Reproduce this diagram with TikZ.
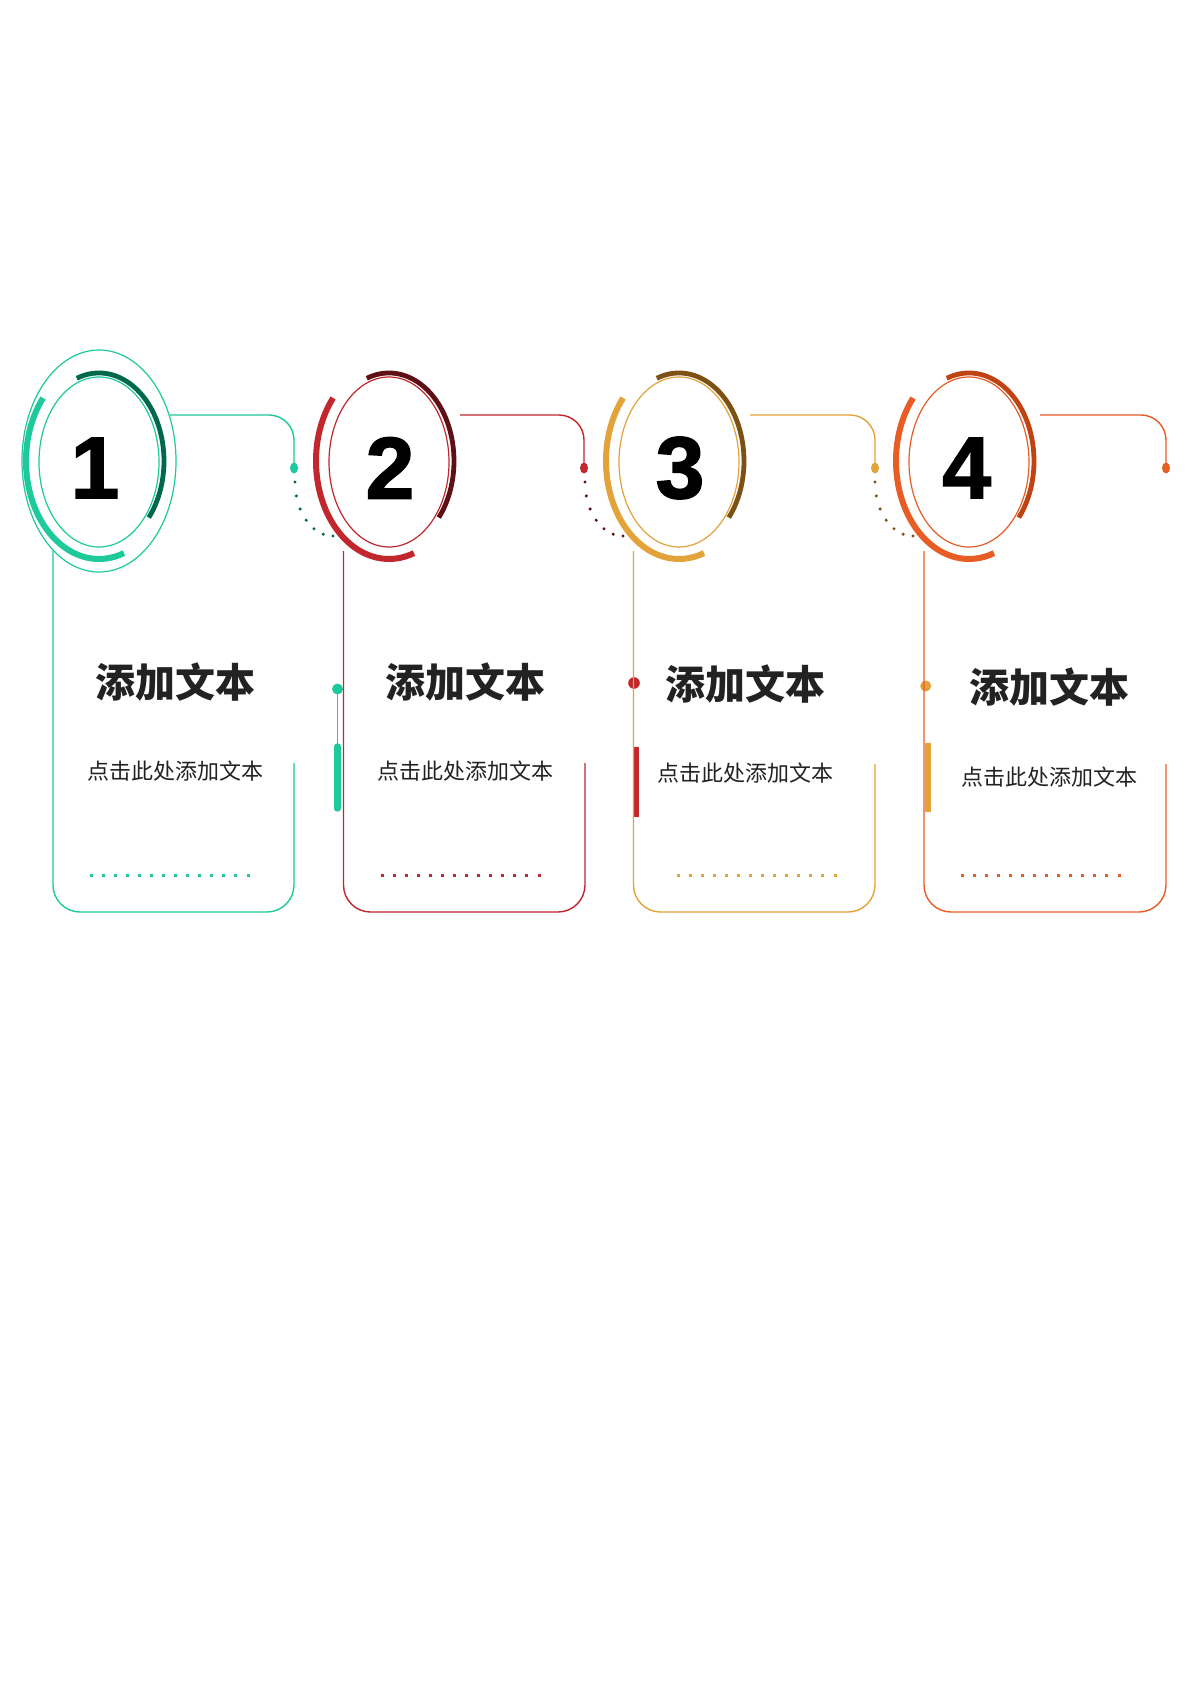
\documentclass[tikz,border=0pt]{standalone}
\usepackage{fontspec}
\setmainfont{Liberation Sans}
\newfontfamily\numfont{Liberation Sans}[BoldFeatures={FakeBold=1.6}]
\newfontfamily\cjk{Noto Sans CJK SC}
\usetikzlibrary{positioning}
\definecolor{greenA}{HTML}{1EC99B}
\definecolor{greenB}{HTML}{00684D}
\definecolor{redA}{HTML}{C1272D}
\definecolor{redB}{HTML}{5E1016}
\definecolor{goldA}{HTML}{E4A23B}
\definecolor{goldB}{HTML}{7B5213}
\definecolor{orangeA}{HTML}{E85C25}
\definecolor{orangeB}{HTML}{BF4313}
\definecolor{inkgray}{HTML}{222222}

\begin{document}
\begin{tikzpicture}[x=0.5pt,y=-0.5pt]
\tikzstyle{thinring}=[line width=0.6pt]
\tikzstyle{bigarc}=[line width=3pt]
\tikzstyle{smallarc}=[line width=2.4pt]
\tikzstyle{hookline}=[line width=0.7pt, rounded corners=12.5pt]
\tikzstyle{boxline}=[line width=0.7pt, rounded corners=13.5pt]
\tikzstyle{numtext}=[font=\numfont\fontsize{44}{44}\selectfont\bfseries, text=black, inner sep=0pt]
\tikzstyle{titletext}=[font=\cjk\fontsize{20}{20}\selectfont\bfseries, text=inkgray, inner sep=0pt]
\tikzstyle{subtext}=[font=\cjk\fontsize{11}{11}\selectfont, text=inkgray, inner sep=0pt]
\tikzstyle{dotrow}=[line width=1.5pt, dash pattern=on 1.5pt off 4.54pt]
\fill [white] (0,0) rectangle (1191,1684);
\useasboundingbox (0,0) rectangle (1191,1684);
\draw [greenA, thinring] (99,461) ellipse (77 and 111);
\draw [greenA, thinring] (99,462) ellipse (60 and 85);
\draw [greenB, smallarc] (99,461) ++(-110:65 and 88) arc [start angle=-110, end angle=40, x radius=65, y radius=88];
\draw [greenA, bigarc] (99,461) ++(-140:73 and 98) arc [start angle=-140, end angle=-290, x radius=73, y radius=98];
\node [numtext] (num1) at (95,468) {1};
\coordinate (hookstart1) at (170,415);
\coordinate (dot1) at (294,468);
\draw [greenA, hookline] (hookstart1) -| (dot1);
\fill [greenA] (dot1) ellipse (4 and 5.5);
\foreach \a in {180,165,...,90} \fill [greenB] (333,482) ++(\a:38 and 54) circle (1.7);
\coordinate (boxtop1) at (53,551);
\coordinate (boxcorner1) at (294,912);
\coordinate (boxend1) at (294,763);
\draw [greenA, boxline] (boxtop1) |- (boxcorner1) -- (boxend1);
\node [titletext] (title1) at (175,682.5) {添加文本};
\node [subtext] (sub1) at (175,771) {点击此处添加文本};
\draw [greenA, dotrow] (89.5,875) -- (249.5,875);
\coordinate (mark1) at (337.5,689);
\fill [greenA] (mark1) circle (5.5);
\draw [greenA, line width=0.6pt] (mark1) -- (337.5,746);
\draw [greenA, line width=3.2pt, line cap=round] (337.5,746.5) -- (337.5,808.5);
\draw [redA, thinring] (389,462) ellipse (60 and 85);
\draw [redB, smallarc] (389,461) ++(-110:65 and 88) arc [start angle=-110, end angle=40, x radius=65, y radius=88];
\draw [redA, bigarc] (389,461) ++(-140:73 and 98) arc [start angle=-140, end angle=-290, x radius=73, y radius=98];
\node [numtext] (num2) at (390,468) {2};
\coordinate (hookstart2) at (460,415);
\coordinate (dot2) at (584,468);
\draw [redA, hookline] (hookstart2) -| (dot2);
\fill [redA] (dot2) ellipse (4 and 5.5);
\foreach \a in {180,165,...,90} \fill [redB] (623,482) ++(\a:38 and 54) circle (1.7);
\coordinate (boxtop2) at (343.5,551);
\coordinate (boxcorner2) at (585,912);
\coordinate (boxend2) at (585,763);
\draw [redA, boxline] (boxtop2) |- (boxcorner2) -- (boxend2);
\node [titletext] (title2) at (465.5,682.5) {添加文本};
\node [subtext] (sub2) at (465.3,770.8) {点击此处添加文本};
\draw [redA, dotrow] (380.5,875) -- (540.5,875);
\coordinate (mark2) at (634,683);
\fill [redA] (mark2) circle (5.8);
\draw [redA, line width=2.65pt] (636.7,746.7) -- (636.7,816.7);
\draw [goldA, thinring] (679,462) ellipse (60 and 85);
\draw [goldB, smallarc] (679,461) ++(-110:65 and 88) arc [start angle=-110, end angle=40, x radius=65, y radius=88];
\draw [goldA, bigarc] (679,461) ++(-140:73 and 98) arc [start angle=-140, end angle=-290, x radius=73, y radius=98];
\node [numtext] (num3) at (680,468) {3};
\coordinate (hookstart3) at (750,415);
\coordinate (dot3) at (875,468);
\draw [goldA, hookline] (hookstart3) -| (dot3);
\fill [goldA] (dot3) ellipse (4 and 5.5);
\foreach \a in {180,165,...,90} \fill [goldB] (913,482) ++(\a:38 and 54) circle (1.7);
\coordinate (boxtop3) at (633.5,551);
\coordinate (boxcorner3) at (875,912);
\coordinate (boxend3) at (875,764);
\draw [goldA, boxline] (boxtop3) |- (boxcorner3) -- (boxend3);
\node [titletext] (title3) at (745,684) {添加文本};
\node [subtext] (sub3) at (745.8,773.3) {点击此处添加文本};
\draw [goldA, dotrow] (676.5,875) -- (836.5,875);
\coordinate (mark3) at (925.7,686);
\fill [goldA] (mark3) circle (5.5);
\draw [goldA, line width=2.85pt] (928,742.7) -- (928,811.7);
\draw [orangeA, thinring] (969,462) ellipse (60 and 85);
\draw [orangeB, smallarc] (969,461) ++(-110:65 and 88) arc [start angle=-110, end angle=40, x radius=65, y radius=88];
\draw [orangeA, bigarc] (969,461) ++(-140:73 and 98) arc [start angle=-140, end angle=-290, x radius=73, y radius=98];
\node [numtext] (num4) at (966.7,468) {4};
\coordinate (hookstart4) at (1040,415);
\coordinate (dot4) at (1166,468);
\draw [orangeA, hookline] (hookstart4) -| (dot4);
\fill [orangeA] (dot4) ellipse (4 and 5.5);
\coordinate (boxtop4) at (924,551);
\coordinate (boxcorner4) at (1166,912);
\coordinate (boxend4) at (1166,764);
\draw [orangeA, boxline] (boxtop4) |- (boxcorner4) -- (boxend4);
\node [titletext] (title4) at (1049,687.5) {添加文本};
\node [subtext] (sub4) at (1049,776.7) {点击此处添加文本};
\draw [orangeA, dotrow] (960.5,875) -- (1121.5,875);
\end{tikzpicture}
\end{document}
